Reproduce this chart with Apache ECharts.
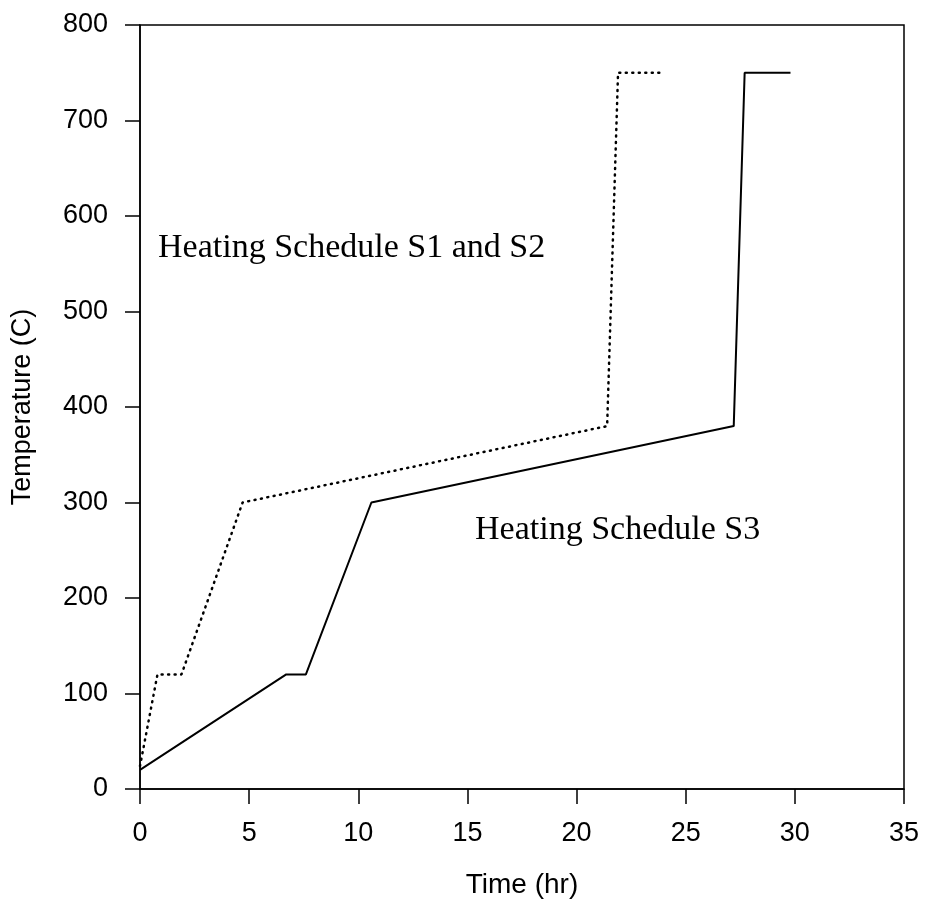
<!DOCTYPE html>
<html>
<head>
<meta charset="utf-8">
<script src="https://cdn.jsdelivr.net/npm/echarts@6/dist/echarts.min.js"></script>
<style>
  html, body { margin: 0; padding: 0; background: #fff; }
  #chart { width: 927px; height: 908px; }
</style>
</head>
<body>
<div id="chart"></div>
<script>
// heating schedule S1 and S2 (dotted)
const s12Time = [0, 0.8, 1.9, 4.7, 21.4, 21.9, 24.0];
const s12Temp = [24, 120, 120, 300, 380, 750, 750];
// heating schedule S3 (solid)
const s3Time = [0, 6.7, 7.6, 10.6, 27.2, 27.7, 29.8];
const s3Temp = [20, 120, 120, 300, 380, 750, 750];

const xTicks = [0, 35, 5];
const yTicks = [0, 800, 100];

const pair = (xs, ys) => xs.map((x, i) => [x, ys[i]]);

const chart = echarts.init(document.getElementById('chart'));
const axisFont = { fontFamily: 'Liberation Sans', fontSize: 27, color: '#000' };

chart.setOption({
  animation: false,
  grid: { left: 140, right: 23, top: 25, bottom: 119, show: true, borderColor: '#000', borderWidth: 1.5 },
  xAxis: {
    type: 'value', min: xTicks[0], max: xTicks[1], interval: xTicks[2],
    name: 'Time (hr)', nameLocation: 'middle', nameGap: 82,
    nameTextStyle: Object.assign({}, axisFont, { fontSize: 28 }),
    axisLine: { lineStyle: { color: '#000', width: 1.5 } },
    axisTick: { inside: false, length: 15, lineStyle: { color: '#000', width: 1.5 } },
    axisLabel: Object.assign({ margin: 31 }, axisFont),
    splitLine: { show: false }
  },
  yAxis: {
    type: 'value', min: yTicks[0], max: yTicks[1], interval: yTicks[2],
    name: 'Temperature (C)', nameLocation: 'middle', nameGap: 104, nameRotate: 90,
    nameTextStyle: axisFont,
    axisLine: { lineStyle: { color: '#000', width: 1.5 } },
    axisTick: { inside: false, length: 15, lineStyle: { color: '#000', width: 1.5 } },
    axisLabel: Object.assign({ margin: 32 }, axisFont),
    splitLine: { show: false }
  },
  series: [
    {
      name: 'S1 and S2', type: 'line', data: pair(s12Time, s12Temp),
      symbol: 'none',
      lineStyle: { color: '#000', width: 2.5, type: [1, 5.5], cap: 'round' }
    },
    {
      name: 'S3', type: 'line', data: pair(s3Time, s3Temp),
      symbol: 'none',
      lineStyle: { color: '#000', width: 2 }
    }
  ],
  graphic: [
    { type: 'text', left: 158, top: 231,
      style: { text: 'Heating Schedule S1 and S2', font: '34px "Liberation Serif"', fill: '#000' } },
    { type: 'text', left: 475, top: 513,
      style: { text: 'Heating Schedule S3', font: '34px "Liberation Serif"', fill: '#000' } }
  ]
});
</script>
</body>
</html>
